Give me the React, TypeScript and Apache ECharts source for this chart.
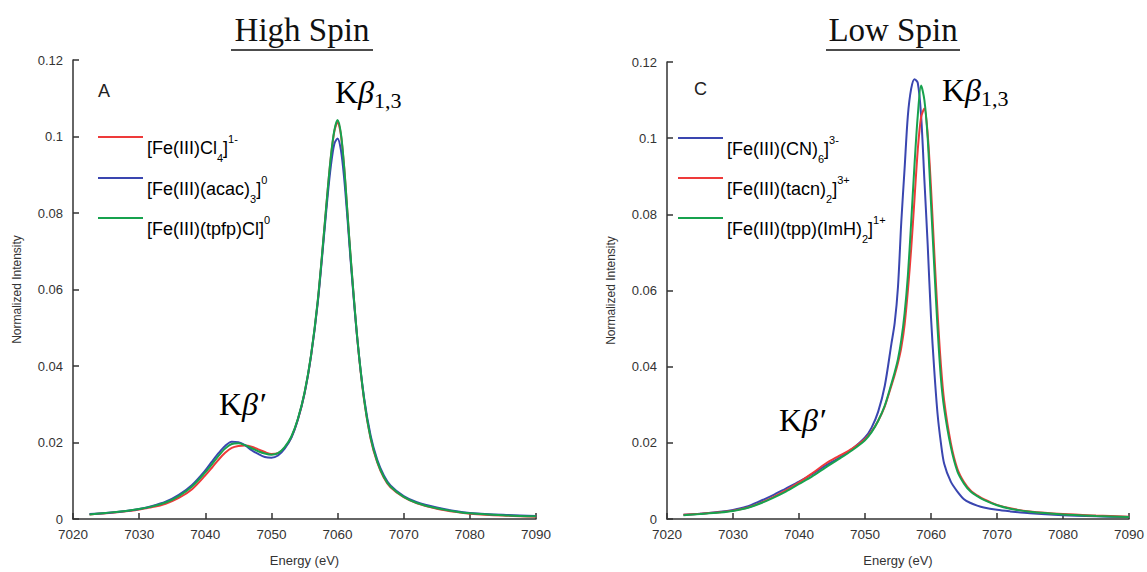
import React, { useEffect, useRef } from "react";
import * as echarts from "echarts";

// ---------- data ----------
const energyHigh = [7022.5, 7025, 7028, 7030, 7032, 7034, 7036, 7038, 7040, 7041, 7042, 7043, 7044, 7045, 7046, 7047, 7048, 7049, 7050, 7051, 7052, 7053, 7054, 7055, 7056, 7057, 7058, 7058.5, 7059, 7059.5, 7060, 7060.5, 7061, 7061.5, 7062, 7063, 7064, 7065, 7066, 7067, 7068, 7070, 7072, 7075, 7078, 7080, 7085, 7090];
const feCl4 = [0.0012, 0.0015, 0.0020, 0.0025, 0.0031, 0.0040, 0.0055, 0.0078, 0.0114, 0.0134, 0.0155, 0.0173, 0.0186, 0.0191, 0.0192, 0.0189, 0.0182, 0.0175, 0.0170, 0.0172, 0.0186, 0.0213, 0.0260, 0.0328, 0.0428, 0.0568, 0.0758, 0.0858, 0.0948, 0.1012, 0.1038, 0.1005, 0.0918, 0.0798, 0.0678, 0.0468, 0.0312, 0.0210, 0.0148, 0.0108, 0.0083, 0.0057, 0.0041, 0.0027, 0.0018, 0.0014, 0.0009, 0.0006];
const feAcac = [0.0013, 0.0016, 0.0021, 0.0026, 0.0034, 0.0045, 0.0063, 0.0089, 0.0127, 0.0150, 0.0172, 0.0191, 0.0202, 0.0201, 0.0193, 0.0180, 0.0170, 0.0162, 0.0160, 0.0166, 0.0184, 0.0212, 0.0260, 0.0328, 0.0428, 0.0565, 0.0750, 0.0845, 0.0925, 0.0980, 0.0995, 0.0965, 0.0890, 0.0785, 0.0670, 0.0468, 0.0318, 0.0218, 0.0155, 0.0114, 0.0088, 0.0060, 0.0044, 0.0030, 0.0020, 0.0016, 0.0011, 0.0008];
const feTpfp = [0.0012, 0.0016, 0.0021, 0.0026, 0.0033, 0.0043, 0.0060, 0.0085, 0.0122, 0.0143, 0.0165, 0.0184, 0.0196, 0.0198, 0.0193, 0.0185, 0.0177, 0.0171, 0.0168, 0.0172, 0.0188, 0.0215, 0.0262, 0.0330, 0.0430, 0.0570, 0.0760, 0.0860, 0.0950, 0.1015, 0.1043, 0.1008, 0.0920, 0.0800, 0.0680, 0.0470, 0.0315, 0.0212, 0.0150, 0.0110, 0.0085, 0.0058, 0.0042, 0.0028, 0.0019, 0.0015, 0.0010, 0.0007];

const energyLow = [7022.5, 7025, 7028, 7030, 7032, 7034, 7036, 7038, 7040, 7042, 7044, 7046, 7048, 7050, 7051, 7052, 7053, 7054, 7054.5, 7055, 7055.5, 7056, 7056.5, 7057, 7057.5, 7058, 7058.5, 7059, 7059.5, 7060, 7060.5, 7061, 7061.5, 7062, 7063, 7064, 7065, 7066, 7067, 7068, 7070, 7072, 7075, 7080, 7085, 7090];
const feCN6 = [0.0011, 0.0014, 0.0019, 0.0024, 0.0032, 0.0046, 0.0062, 0.0080, 0.0098, 0.0118, 0.0140, 0.0160, 0.0183, 0.0214, 0.0240, 0.0282, 0.0350, 0.0460, 0.0515, 0.0610, 0.0780, 0.0920, 0.1060, 0.1130, 0.1155, 0.1145, 0.1060, 0.0890, 0.0720, 0.0530, 0.0390, 0.0275, 0.0200, 0.0145, 0.0098, 0.0072, 0.0052, 0.0042, 0.0035, 0.0030, 0.0024, 0.0020, 0.0015, 0.0010, 0.0007, 0.0005];
const feTacn = [0.0011, 0.0014, 0.0018, 0.0022, 0.0029, 0.0041, 0.0057, 0.0075, 0.0096, 0.0120, 0.0145, 0.0165, 0.0184, 0.0210, 0.0230, 0.0258, 0.0296, 0.0350, 0.0378, 0.0410, 0.0450, 0.0510, 0.0600, 0.0710, 0.0840, 0.0970, 0.1055, 0.1078, 0.1010, 0.0870, 0.0700, 0.0540, 0.0405, 0.0310, 0.0200, 0.0132, 0.0097, 0.0075, 0.0062, 0.0052, 0.0037, 0.0028, 0.0020, 0.0013, 0.0009, 0.0006];
const feTppImH = [0.0010, 0.0013, 0.0017, 0.0021, 0.0028, 0.0040, 0.0055, 0.0072, 0.0092, 0.0112, 0.0135, 0.0157, 0.0180, 0.0207, 0.0228, 0.0258, 0.0298, 0.0355, 0.0385, 0.0420, 0.0470, 0.0540, 0.0640, 0.0780, 0.0930, 0.1060, 0.1138, 0.1100, 0.1000, 0.0830, 0.0660, 0.0500, 0.0370, 0.0290, 0.0190, 0.0125, 0.0093, 0.0072, 0.0060, 0.0050, 0.0036, 0.0027, 0.0019, 0.0012, 0.0008, 0.0005];

const xTicks = { min: 7020, max: 7090, interval: 10 };
const yTicks = { min: 0, max: 0.12, interval: 0.02 };

const RED = "#ee3a3a";
const BLUE = "#3a46b0";
const GREEN = "#17a24e";
const RED_T = "#f04848";
const BLUE_T = "#4a58b4";
const GREEN_T = "#1fa352";

const SANS = "'Liberation Sans', Arial, sans-serif";
const SERIF = "'Liberation Serif', 'Times New Roman', serif";

const pairs = (xs: number[], ys: number[]) => xs.map((x, i) => [x, ys[i]]);

function axisX(gridIndex: number) {
  return {
    type: "value",
    gridIndex,
    ...xTicks,
    name: "Energy (eV)",
    nameLocation: "middle",
    nameGap: 35,
    nameTextStyle: { fontFamily: SANS, fontSize: 13, color: "#333" },
    axisLine: { show: true, lineStyle: { color: "#333", width: 1.5 } },
    axisTick: { show: true, inside: true, length: 6, lineStyle: { color: "#333", width: 1.5 } },
    axisLabel: { fontFamily: SANS, fontSize: 13.5, color: "#333", margin: 8, formatter: (v: number) => String(v) },
    splitLine: { show: false },
  };
}
function axisY(gridIndex: number) {
  return {
    type: "value",
    gridIndex,
    ...yTicks,
    name: "Normalized Intensity",
    nameLocation: "middle",
    nameGap: 50,
    nameTextStyle: { fontFamily: SANS, fontSize: 12, color: "#333" },
    axisLine: { show: true, lineStyle: { color: "#333", width: 1.5 } },
    axisTick: { show: true, inside: true, length: 6, lineStyle: { color: "#333", width: 1.5 } },
    axisLabel: { fontFamily: SANS, fontSize: 13, color: "#333", margin: 10 },
    splitLine: { show: false },
  };
}
function line(name: string, xi: number, xs: number[], ys: number[], color: string) {
  return {
    type: "line",
    name,
    xAxisIndex: xi,
    yAxisIndex: xi,
    data: pairs(xs, ys),
    showSymbol: false,
    smooth: 0.3,
    lineStyle: { color, width: 2 },
    itemStyle: { color },
    silent: true,
  };
}

const legendRich = (color: string) => ({
  m: { fontFamily: SANS, fontSize: 18, lineHeight: 30, color },
  s: { fontFamily: SANS, fontSize: 11, color, verticalAlign: "bottom" },
  p: { fontFamily: SANS, fontSize: 11, color, verticalAlign: "top" },
});
function legendItem(x: number, y: number, color: string, tcolor: string, text: string) {
  return [
    { type: "line", shape: { x1: x, y1: y, x2: x + 45, y2: y }, style: { stroke: color, lineWidth: 2 } },
    {
      type: "text",
      x: x + 49,
      y: y + 11,
      style: { text, rich: legendRich(tcolor), verticalAlign: "middle", align: "left" },
    },
  ];
}
const kbRich = {
  k: { fontFamily: SERIF, fontSize: 32, lineHeight: 38, color: "#111" },
  b: { fontFamily: SERIF, fontSize: 32, fontStyle: "italic", lineHeight: 38, color: "#111" },
  s: { fontFamily: SERIF, fontSize: 22, color: "#111", verticalAlign: "bottom" },
};
function kb13(x: number, y: number) {
  return { type: "text", x, y, style: { text: "{k|K}{b|β}{s|1,3}", rich: kbRich, verticalAlign: "middle" } };
}
function kbp(x: number, y: number) {
  return { type: "text", x, y, style: { text: "{k|K}{b|β′}", rich: kbRich, verticalAlign: "middle" } };
}
function title(cx: number, text: string, w: number) {
  return [
    { type: "text", x: cx, y: 30, style: { text, fontFamily: SERIF, fontSize: 33, fill: "#111", align: "center", verticalAlign: "middle" } },
    { type: "line", shape: { x1: cx - w / 2, y1: 50, x2: cx + w / 2, y2: 50 }, style: { stroke: "#111", lineWidth: 1.5 } },
  ];
}

export default function App() {
  const ref = useRef<HTMLDivElement>(null);
  useEffect(() => {
    if (!ref.current) return;
    const chart = echarts.init(ref.current, undefined, { renderer: "svg" });
    chart.setOption({
      animation: false,
      backgroundColor: "#fff",
      grid: [
        { left: 73, right: 1147 - 536, top: 60, bottom: 572 - 520 },
        { left: 667, right: 1147 - 1131, top: 62, bottom: 572 - 521 },
      ],
      xAxis: [axisX(0), axisX(1)],
      yAxis: [axisY(0), axisY(1)],
      series: [
        line("[Fe(III)Cl4]1-", 0, energyHigh, feCl4, RED),
        line("[Fe(III)(acac)3]0", 0, energyHigh, feAcac, BLUE),
        line("[Fe(III)(tpfp)Cl]0", 0, energyHigh, feTpfp, GREEN),
        line("[Fe(III)(CN)6]3-", 1, energyLow, feCN6, BLUE),
        line("[Fe(III)(tacn)2]3+", 1, energyLow, feTacn, RED),
        line("[Fe(III)(tpp)(ImH)2]1+", 1, energyLow, feTppImH, GREEN),
      ],
      graphic: [
        ...title(302, "High Spin", 142),
        ...title(893, "Low Spin", 134),
        { type: "text", x: 98, y: 91, style: { text: "A", fontFamily: SANS, fontSize: 18, fill: "#222", verticalAlign: "middle" } },
        { type: "text", x: 694, y: 89, style: { text: "C", fontFamily: SANS, fontSize: 18, fill: "#222", verticalAlign: "middle" } },
        kb13(335, 92),
        kb13(942, 90),
        kbp(219, 404),
        kbp(779, 420),
        ...legendItem(98, 137, RED, RED_T, "{m|[Fe(III)Cl}{s|4}{m|]}{p|1-}"),
        ...legendItem(98, 178, BLUE, BLUE_T, "{m|[Fe(III)(acac)}{s|3}{m|]}{p|0}"),
        ...legendItem(98, 218, GREEN, GREEN_T, "{m|[Fe(III)(tpfp)Cl]}{p|0}"),
        ...legendItem(678, 138, BLUE, BLUE_T, "{m|[Fe(III)(CN)}{s|6}{m|]}{p|3-}"),
        ...legendItem(678, 178, RED, RED_T, "{m|[Fe(III)(tacn)}{s|2}{m|]}{p|3+}"),
        ...legendItem(678, 218, GREEN, GREEN_T, "{m|[Fe(III)(tpp)(ImH)}{s|2}{m|]}{p|1+}"),
      ],
    });
    return () => chart.dispose();
  }, []);
  return <div ref={ref} style={{ position: "absolute", left: 0, top: 0, width: 1147, height: 572 }} />;
}
